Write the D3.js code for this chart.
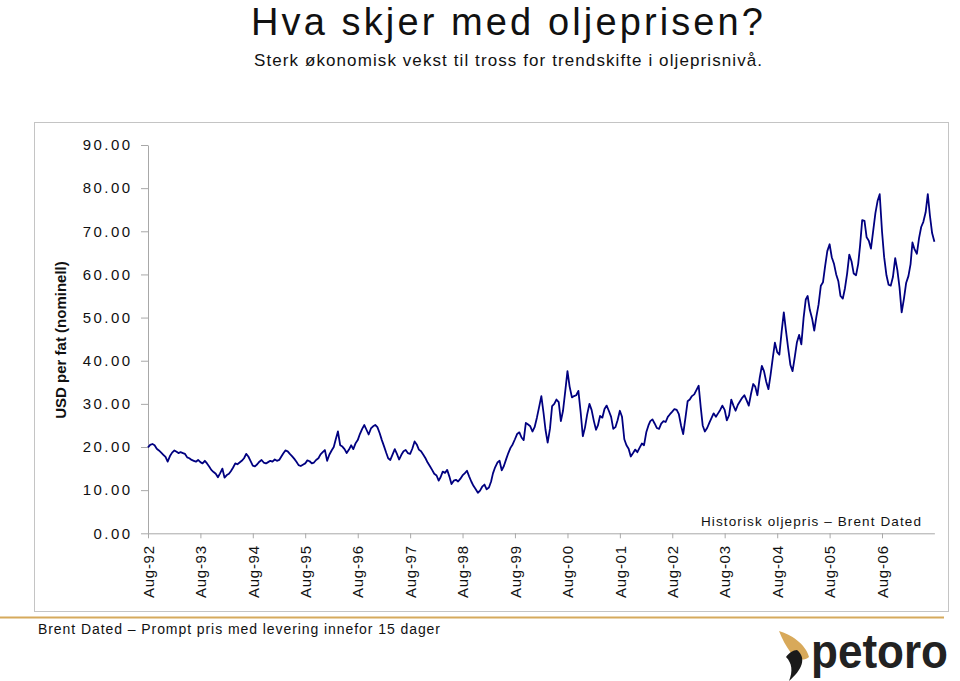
<!DOCTYPE html>
<html lang="no">
<head>
<meta charset="utf-8"/>
<title>Hva skjer med oljeprisen?</title>
<script src="https://cdn.jsdelivr.net/npm/d3@7"></script>
<style>
  html, body { margin: 0; padding: 0; background: #fff; }
  svg { display: block; font-family: "Liberation Sans", Arial, sans-serif; }
</style>
</head>
<body>
<svg id="chart" width="960" height="681"></svg>
<script>
// Brent Dated, USD per fat, to verdier per måned (1. og 16.) fra aug 1992
const brent = [
  19.9, 20.5, 20.7, 20.4, 19.6, 19.2, 18.7, 18.2, 17.7, 16.6, 17.9, 18.7, 19.2, 18.9, 18.6, 18.8, 18.6, 18.4, 17.6, 17.4, 17.0, 16.8, 16.6, 17.0, // 92/93
  16.5, 16.2, 16.8, 16.2, 15.5, 14.7, 14.2, 13.8, 13.0, 13.9, 15.0, 12.9, 13.5, 13.8, 14.4, 15.2, 16.2, 16.0, 16.4, 16.8, 17.4, 18.4, 17.8, 16.8, // 93/94
  15.7, 15.5, 16.0, 16.6, 17.0, 16.4, 16.2, 16.5, 16.8, 16.6, 17.1, 16.8, 17.0, 17.8, 18.5, 19.2, 19.0, 18.4, 17.9, 17.3, 16.6, 15.8, 15.6, 15.9, // 94/95
  16.2, 16.9, 16.7, 16.2, 16.4, 17.0, 17.4, 18.3, 18.8, 19.3, 16.8, 18.2, 19.2, 20.0, 21.8, 23.6, 20.4, 20.1, 19.5, 18.6, 19.4, 20.4, 19.5, 20.8, // 95/96
  21.6, 23.0, 24.2, 25.1, 24.0, 22.9, 24.3, 24.8, 25.1, 24.6, 23.2, 21.6, 20.1, 18.6, 17.4, 17.0, 18.3, 19.5, 18.4, 17.1, 18.2, 19.0, 19.3, 18.6, // 96/97
  18.4, 19.6, 21.3, 20.6, 19.4, 19.0, 18.2, 17.4, 16.4, 15.6, 14.7, 13.8, 13.4, 12.2, 13.0, 14.3, 14.0, 14.7, 13.2, 11.4, 12.2, 12.4, 12.0, 12.6, // 97/98
  13.4, 13.9, 14.5, 13.2, 12.0, 11.0, 10.2, 9.4, 9.9, 10.8, 11.3, 10.2, 10.6, 12.0, 13.9, 15.3, 16.4, 16.8, 14.6, 15.6, 17.2, 18.6, 19.8, 20.6, // 98/99
  21.8, 23.0, 23.4, 22.2, 21.6, 25.6, 25.2, 24.8, 23.6, 24.6, 26.8, 29.2, 31.8, 28.0, 24.0, 21.0, 24.2, 29.5, 30.0, 31.0, 30.4, 26.0, 28.4, 32.8, // 99/00
  37.6, 34.0, 31.5, 31.8, 32.0, 33.0, 28.0, 22.5, 24.5, 27.5, 30.0, 28.6, 26.0, 24.0, 25.0, 27.2, 26.8, 28.8, 29.6, 28.4, 27.0, 24.2, 24.6, 26.2, // 00/01
  28.4, 27.0, 21.8, 20.4, 19.6, 17.8, 18.6, 19.4, 18.8, 19.8, 20.8, 20.4, 23.4, 25.0, 26.0, 26.4, 25.4, 24.4, 24.2, 25.4, 26.0, 25.8, 27.0, 27.6, // 01/02
  28.2, 28.8, 28.6, 27.6, 25.0, 23.0, 26.8, 30.6, 31.0, 31.8, 32.2, 33.2, 34.2, 29.0, 25.0, 23.6, 24.4, 25.6, 26.7, 27.8, 27.0, 27.8, 28.6, 29.6, // 02/03
  28.6, 26.2, 27.4, 31.0, 29.6, 28.4, 29.8, 30.6, 31.4, 32.0, 30.8, 29.6, 32.4, 34.6, 34.0, 32.0, 36.0, 38.8, 37.6, 35.2, 33.4, 36.8, 40.6, 44.2, // 03/04
  42.0, 41.4, 46.8, 51.2, 47.0, 43.0, 39.0, 37.6, 40.8, 44.2, 46.0, 43.8, 50.0, 54.2, 55.0, 51.8, 49.8, 47.0, 50.2, 53.0, 57.4, 58.2, 62.0, 65.4, // 04/05
  67.0, 64.0, 62.4, 60.0, 58.4, 55.0, 54.4, 56.8, 60.2, 64.6, 63.0, 60.2, 59.8, 62.4, 66.6, 72.6, 72.4, 68.6, 67.8, 66.0, 70.2, 74.2, 77.0, 78.6, // 05/06
  70.0, 64.0, 59.8, 57.6, 57.4, 59.4, 63.8, 61.0, 57.0, 51.2, 54.4, 58.0, 59.6, 62.4, 67.4, 65.8, 64.8, 68.4, 71.0, 72.2, 74.4, 78.6, 73.6, 69.6, 67.6  // 06/07
];

const xTickLabels = ["Aug-92", "Aug-93", "Aug-94", "Aug-95", "Aug-96", "Aug-97", "Aug-98", "Aug-99",
                     "Aug-00", "Aug-01", "Aug-02", "Aug-03", "Aug-04", "Aug-05", "Aug-06"];
const yTicks = [0, 10, 20, 30, 40, 50, 60, 70, 80, 90];

const data = brent.map((v, i) => ({
  date: new Date(1992, 7 + Math.floor(i / 2), i % 2 ? 16 : 1),
  value: v
}));

const svg = d3.select("#chart");

// ramme rundt diagrammet
svg.append("rect")
  .attr("x", 34.5).attr("y", 122.5)
  .attr("width", 914).attr("height", 489)
  .attr("fill", "none").attr("stroke", "#c4c4c4");

// tittel
svg.append("text")
  .attr("x", 251).attr("y", 35)
  .attr("font-size", 38).attr("fill", "#111")
  .attr("textLength", 512).attr("lengthAdjust", "spacing")
  .text("Hva skjer med oljeprisen?");

svg.append("text")
  .attr("x", 254).attr("y", 66)
  .attr("font-size", 17).attr("fill", "#111")
  .attr("textLength", 508).attr("lengthAdjust", "spacing")
  .text("Sterk økonomisk vekst til tross for trendskifte i oljeprisnivå.");

const x = d3.scaleTime()
  .domain([new Date(1992, 7, 1), new Date(2007, 7, 1)])
  .range([148, 934.4]);

const y = d3.scaleLinear()
  .domain([0, 90])
  .range([533.3, 145]);

// y-akse
const yAxis = svg.append("g")
  .attr("transform", "translate(148,0)")
  .call(d3.axisLeft(y).tickValues(yTicks).tickSize(7).tickSizeOuter(0)
    .tickPadding(8.6).tickFormat(d3.format(".2f")));
yAxis.select(".domain").attr("stroke", "#a8a8a8");
yAxis.selectAll(".tick line").attr("stroke", "#a8a8a8");
yAxis.selectAll(".tick text")
  .attr("fill", "#111")
  .style("font-size", "15px")
  .style("letter-spacing", "2.4px")
  .style("font-family", "'Liberation Sans', Arial, sans-serif");

// x-akse
const xAxis = svg.append("g")
  .attr("transform", "translate(0,533.3)")
  .call(d3.axisBottom(x)
    .tickValues(xTickLabels.map((_, i) => new Date(1992 + i, 7, 1)))
    .tickFormat((d, i) => xTickLabels[i])
    .tickSize(5).tickSizeOuter(0));
xAxis.select(".domain").attr("stroke", "#a8a8a8");
xAxis.selectAll(".tick line").attr("stroke", "#a8a8a8");
xAxis.selectAll(".tick text")
  .attr("fill", "#111")
  .attr("transform", "rotate(-90)")
  .attr("x", -12).attr("y", 0).attr("dy", "0.35em")
  .style("text-anchor", "end")
  .style("font-size", "15px")
  .style("letter-spacing", "0.7px")
  .style("font-family", "'Liberation Sans', Arial, sans-serif");

// aksetittel
svg.append("text")
  .attr("transform", "translate(66,340) rotate(-90)")
  .attr("text-anchor", "middle")
  .attr("font-size", 15).attr("font-weight", "bold").attr("fill", "#111")
  .text("USD per fat (nominell)");

// prislinje
const line = d3.line()
  .x(d => x(d.date))
  .y(d => y(d.value));

svg.append("path")
  .datum(data)
  .attr("d", line)
  .attr("fill", "none")
  .attr("stroke", "#000080")
  .attr("stroke-width", 1.8)
  .attr("stroke-linejoin", "round");

// forklaring
svg.append("text")
  .attr("x", 701).attr("y", 526)
  .attr("font-size", 13.5).attr("fill", "#111")
  .attr("textLength", 220).attr("lengthAdjust", "spacing")
  .text("Historisk oljepris – Brent Dated");

// gull-linje og fotnote
svg.append("line")
  .attr("x1", 0).attr("x2", 944)
  .attr("y1", 617.5).attr("y2", 617.5)
  .attr("stroke", "#d6aa5c").attr("stroke-width", 2);

svg.append("text")
  .attr("x", 38).attr("y", 634)
  .attr("font-size", 14).attr("fill", "#111")
  .attr("textLength", 402).attr("lengthAdjust", "spacing")
  .text("Brent Dated – Prompt pris med levering innefor 15 dager");

// logo
const logo = svg.append("g");
logo.append("path")
  .attr("d", "M779,631 C790,634 806,644 809,657 C803,662 794,659 791,653 C786,646 782,639 779,631 Z")
  .attr("fill", "#d8a95a");
logo.append("path")
  .attr("d", "M797,650 C807,658 802,670 789,681 C793,671 792,663 786,657 C789,653 793,650 797,650 Z")
  .attr("fill", "#1a1a1a");
logo.append("text")
  .attr("x", 811).attr("y", 668)
  .attr("font-size", 48).attr("font-weight", "bold").attr("fill", "#222")
  .attr("textLength", 137).attr("lengthAdjust", "spacingAndGlyphs")
  .text("petoro");
</script>
</body>
</html>
